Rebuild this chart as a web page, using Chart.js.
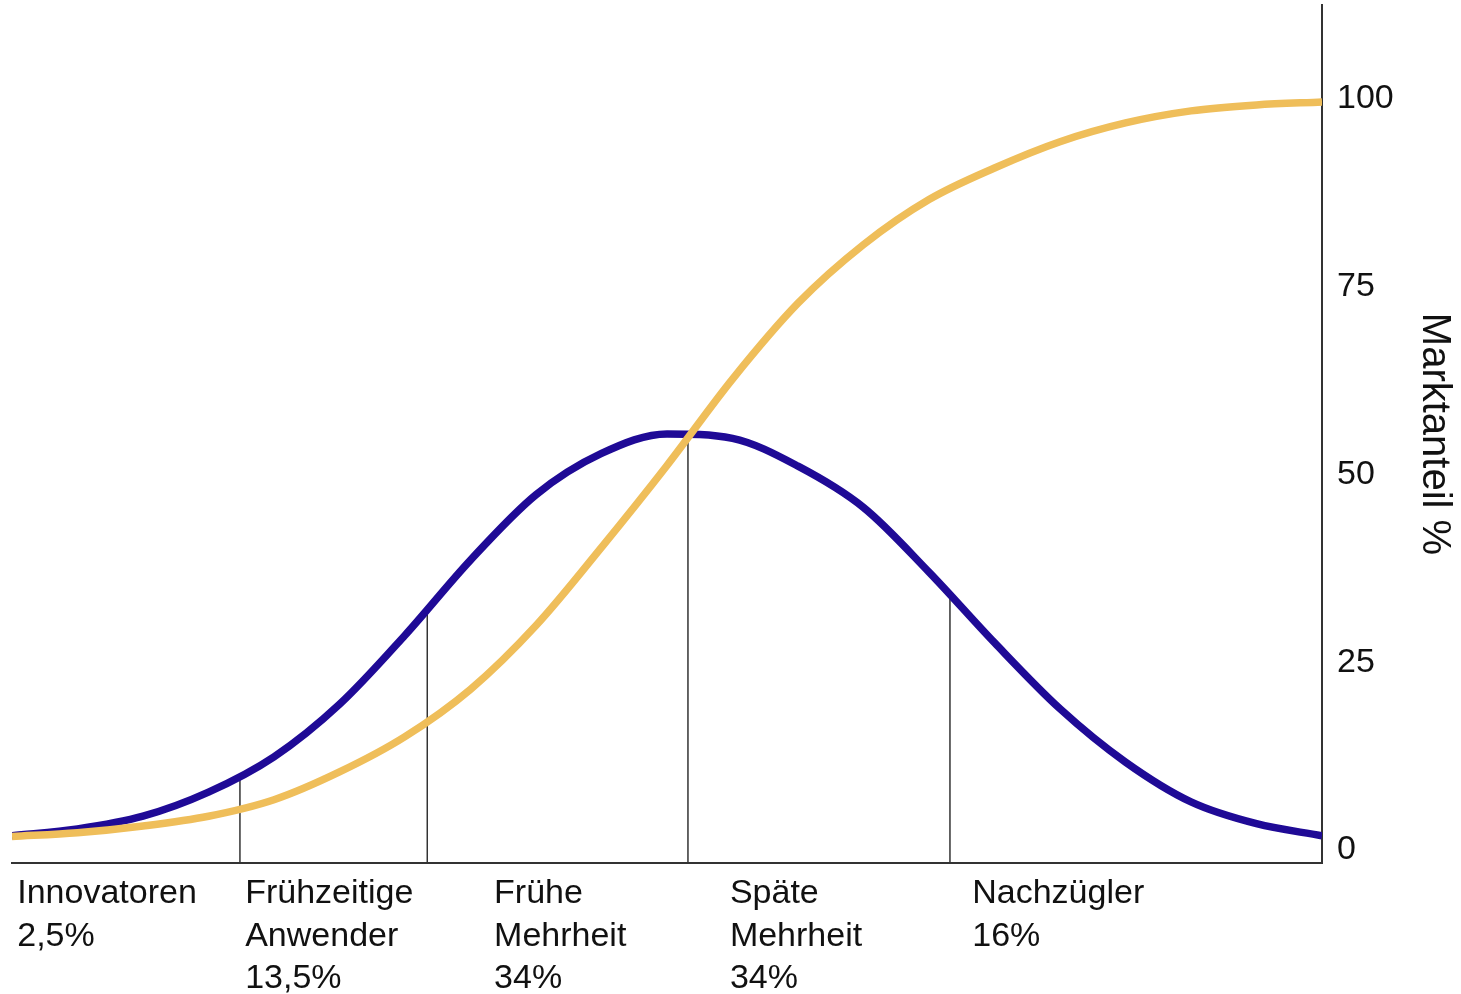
<!DOCTYPE html>
<html>
<head>
<meta charset="utf-8">
<script src="https://cdn.jsdelivr.net/npm/chart.js@4.4.1/dist/chart.umd.min.js"></script>
<style>
  html, body { margin: 0; padding: 0; background: #fff; }
  #wrap { width: 1461px; height: 994px; }
</style>
</head>
<body>
<div id="wrap"><canvas id="myChart" width="1461" height="994"></canvas></div>
<script>
// Zeitachse 0..100 (ohne Beschriftung)
var timeX = [0, 5, 10, 15, 20, 25, 30, 35, 40, 45, 50, 55, 60, 65, 70, 75, 80, 85, 90, 95, 100];

// Adoptionskurve (Glocke)
var adoptY = [1.9, 2.8, 4.5, 7.7, 12.4, 19.4, 28.6, 38.6, 47.3, 52.8, 55.4, 54.8, 51.1, 45.6, 37.0, 27.6, 18.8, 11.7, 6.4, 3.5, 1.9];

// Marktanteil (S-Kurve)
var shareY = [1.8, 2.3, 3.2, 4.5, 6.7, 10.4, 15.1, 21.4, 29.9, 40.3, 51.2, 62.7, 72.8, 80.6, 86.6, 90.8, 94.3, 96.8, 98.4, 99.2, 99.6];

// Grenzen der Gruppen
var markX = [17.4, 31.7, 51.6, 71.6];
var markY = [9.8, 32.1, 55.5, 34.1];

var groupNames = [
  ["Innovatoren", "2,5%"],
  ["Frühzeitige", "Anwender", "13,5%"],
  ["Frühe", "Mehrheit", "34%"],
  ["Späte", "Mehrheit", "34%"],
  ["Nachzügler", "16%"]
];
var groupX = [0.4, 17.8, 36.8, 54.8, 73.3];

var yTicks = [0, 25, 50, 75, 100];
var yMin = -1.73, yMax = 112.5;

function toPoints(xs, ys) {
  return xs.map(function (x, i) { return { x: x, y: ys[i] }; });
}

var datasets = [
  {
    data: toPoints(timeX, shareY),
    borderColor: '#efbe5a',
    borderWidth: 7.5,
    cubicInterpolationMode: 'monotone',
    pointRadius: 0,
    order: 1
  },
  {
    data: toPoints(timeX, adoptY),
    borderColor: '#1f0a96',
    borderWidth: 7.5,
    cubicInterpolationMode: 'monotone',
    pointRadius: 0,
    order: 2
  }
];

markX.forEach(function (x, i) {
  datasets.push({
    data: [{ x: x, y: yMin }, { x: x, y: markY[i] }],
    borderColor: '#333',
    borderWidth: 1.5,
    pointRadius: 0,
    order: 3
  });
});

var groupLabels = {
  id: 'groupLabels',
  afterDraw: function (chart) {
    var ctx = chart.ctx;
    var xs = chart.scales.x;
    var top = chart.chartArea.bottom;
    ctx.save();
    ctx.font = '34px "Liberation Sans", Arial, sans-serif';
    ctx.fillStyle = '#111';
    ctx.textAlign = 'left';
    ctx.textBaseline = 'middle';
    groupNames.forEach(function (lines, i) {
      var px = xs.getPixelForValue(groupX[i]);
      lines.forEach(function (txt, j) {
        ctx.fillText(txt, px, top + 31 + j * 42.5);
      });
    });
    ctx.restore();
  }
};

var ctx = document.getElementById("myChart");

new Chart(ctx, {
  type: 'line',
  data: { datasets: datasets },
  plugins: [groupLabels],
  options: {
    responsive: false,
    animation: false,
    layout: { padding: { left: 12, top: 5, right: 0, bottom: 0 } },
    plugins: {
      legend: { display: false },
      tooltip: { enabled: false }
    },
    scales: {
      x: {
        type: 'linear',
        min: 0,
        max: 100,
        grid: { display: false, drawTicks: false },
        border: { display: true, color: '#333', width: 2 },
        ticks: { display: false },
        afterFit: function (scale) {
          scale.height = 131;
          scale.paddingLeft = 0;
          scale.paddingRight = 0;
        }
      },
      y: {
        type: 'linear',
        position: 'right',
        min: yMin,
        max: yMax,
        grid: { display: false, drawTicks: false },
        border: { display: true, color: '#333', width: 2 },
        afterBuildTicks: function (scale) {
          scale.ticks = yTicks.map(function (v) { return { value: v }; });
        },
        ticks: {
          padding: 15,
          color: '#111',
          font: { family: '"Liberation Sans", Arial, sans-serif', size: 34 }
        },
        title: {
          display: true,
          text: 'Marktanteil %',
          color: '#111',
          padding: { top: 3, bottom: 0 },
          font: { family: '"Liberation Sans", Arial, sans-serif', size: 40 }
        },
        afterFit: function (scale) {
          scale.width = 139;
          scale.paddingTop = 0;
          scale.paddingBottom = 0;
        }
      }
    }
  }
});
</script>
</body>
</html>
